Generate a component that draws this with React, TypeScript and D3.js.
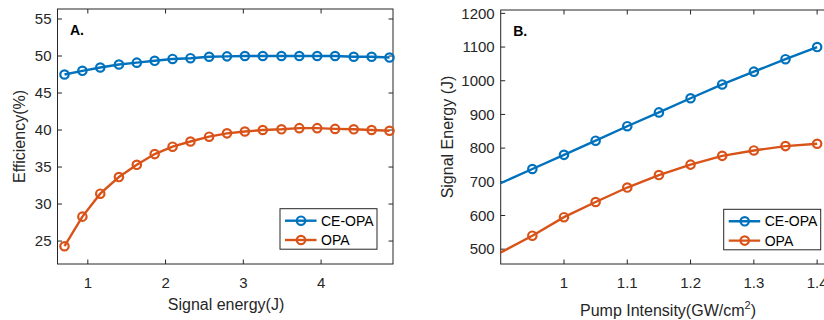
import React from "react";
import * as d3 from "d3";

// ---- Panel A data ----
const signalEnergy = [0.70, 0.93, 1.16, 1.40, 1.63, 1.86, 2.09, 2.32, 2.56, 2.79, 3.02, 3.25, 3.49, 3.72, 3.95, 4.18, 4.42, 4.65, 4.88];
const effCEOPA = [47.5, 48.0, 48.45, 48.85, 49.1, 49.35, 49.6, 49.7, 49.9, 49.95, 50.0, 50.0, 50.0, 50.0, 50.0, 50.0, 49.9, 49.9, 49.8];
const effOPA = [24.3, 28.3, 31.4, 33.65, 35.3, 36.75, 37.75, 38.45, 39.1, 39.55, 39.8, 40.0, 40.1, 40.25, 40.25, 40.15, 40.1, 40.0, 39.9];
const ticksA_x = [1, 2, 3, 4];
const ticksA_y = [25, 30, 35, 40, 45, 50, 55];

// ---- Panel B data ----
const pumpIntensity = [0.85, 0.95, 1.0, 1.05, 1.1, 1.15, 1.2, 1.25, 1.3, 1.35, 1.4];
const sigCEOPA = [654, 738, 780, 822, 865, 906, 948, 989, 1027, 1064, 1100];
const sigOPA = [440, 540, 595, 640, 683, 720, 751, 777, 793, 806, 813];
const ticksB_x = [1, 1.1, 1.2, 1.3, 1.4];
const ticksB_y = [500, 600, 700, 800, 900, 1000, 1100, 1200];

const seriesNames = ["CE-OPA", "OPA"];
const BLUE = "#0072BD";
const ORANGE = "#D95319";
const AX = "#262626";
const FONT = "'Liberation Sans', Arial, Helvetica, sans-serif";
const TICK_FS = 15;
const LABEL_FS = 16;

type PanelProps = {
  id: string;
  xs: number[];
  ys: number[][];
  xDomain: [number, number];
  yDomain: [number, number];
  left: number; right: number; top: number; bottom: number;
  xTicks: number[]; yTicks: number[];
  xFmt: (v: number) => string;
  panelLabel: string;
  yLabel: string;
  yLabelX: number;
  xLabel: React.ReactNode;
  legendX: number; legendY: number;
  clip: boolean;
  drawRight: boolean;
};

function Panel(p: PanelProps) {
  const x = d3.scaleLinear().domain(p.xDomain).range([p.left, p.right]);
  const y = d3.scaleLinear().domain(p.yDomain).range([p.bottom, p.top]);
  const line = d3.line<number>().x((_, i) => x(p.xs[i])).y((d) => y(d));
  const colors = [BLUE, ORANGE];
  const tl = 4.5;
  const clipId = "clip-" + p.id;
  const lw = 97, lh = 40.5;
  return (
    <g>
      <defs>
        <clipPath id={clipId}>
          <rect x={p.left} y={p.top} width={p.right - p.left} height={p.bottom - p.top} />
        </clipPath>
      </defs>
      <rect x={p.left} y={p.top} width={p.right - p.left} height={p.bottom - p.top} fill="#fff" stroke={AX} strokeWidth={1} />
      {p.xTicks.map((t) => (
        <g key={"xt" + t}>
          <line x1={x(t)} x2={x(t)} y1={p.bottom} y2={p.bottom - tl} stroke={AX} />
          <line x1={x(t)} x2={x(t)} y1={p.top} y2={p.top + tl} stroke={AX} />
          <text x={x(t)} y={p.bottom + 24} textAnchor="middle" fontSize={TICK_FS} fill={AX} fontFamily={FONT}>{p.xFmt(t)}</text>
        </g>
      ))}
      {p.yTicks.map((t) => (
        <g key={"yt" + t}>
          <line x1={p.left} x2={p.left + tl} y1={y(t)} y2={y(t)} stroke={AX} />
          {p.drawRight && <line x1={p.right} x2={p.right - tl} y1={y(t)} y2={y(t)} stroke={AX} />}
          <text x={p.left - 6} y={y(t) + 5.2} textAnchor="end" fontSize={TICK_FS} fill={AX} fontFamily={FONT}>{t}</text>
        </g>
      ))}
      <g clipPath={p.clip ? `url(#${clipId})` : undefined}>
        {p.ys.map((s, k) => (
          <g key={"s" + k}>
            <path d={line(s) || ""} fill="none" stroke={colors[k]} strokeWidth={2.4} />
            {s.map((v, i) => (
              <circle key={i} cx={x(p.xs[i])} cy={y(v)} r={4.2} fill="none" stroke={colors[k]} strokeWidth={2.2} />
            ))}
          </g>
        ))}
      </g>
      <text x={p.left + 12.5} y={p.top + 26} fontSize={14} fontWeight="bold" fill="#000" fontFamily={FONT}>{p.panelLabel}</text>
      <text transform={`translate(${p.yLabelX},${(p.top + p.bottom) / 2}) rotate(-90)`} textAnchor="middle" fontSize={LABEL_FS} fill={AX} fontFamily={FONT}>{p.yLabel}</text>
      {p.xLabel}
      <rect x={p.legendX} y={p.legendY} width={lw} height={lh} fill="#fff" stroke={AX} strokeWidth={1} />
      {seriesNames.map((n, k) => {
        const cy = p.legendY + 12 + k * 19.3;
        return (
          <g key={n}>
            <line x1={p.legendX + 5} x2={p.legendX + 36.5} y1={cy} y2={cy} stroke={colors[k]} strokeWidth={2.4} />
            <circle cx={p.legendX + 21} cy={cy} r={4.2} fill="none" stroke={colors[k]} strokeWidth={2.2} />
            <text x={p.legendX + 41} y={cy + 5} fontSize={14} fill="#000" fontFamily={FONT}>{n}</text>
          </g>
        );
      })}
    </g>
  );
}

export default function App() {
  return (
    <svg width={824} height={320} style={{ position: "absolute", left: 0, top: 0, background: "#fff" }}>
      <rect x={0} y={0} width={824} height={320} fill="#fff" />
      <Panel
        id="a"
        xs={signalEnergy}
        ys={[effCEOPA, effOPA]}
        xDomain={[0.61, 4.925]}
        yDomain={[21.9, 56.35]}
        left={57.5} right={393} top={9} bottom={264}
        xTicks={ticksA_x} yTicks={ticksA_y}
        xFmt={(v) => String(v)}
        panelLabel="A."
        yLabel="Efficiency(%)"
        yLabelX={25}
        xLabel={<text x={226} y={310} textAnchor="middle" fontSize={LABEL_FS} fill={AX} fontFamily={FONT}>Signal energy(J)</text>}
        legendX={280} legendY={208.7}
        clip={false}
        drawRight={true}
      />
      <Panel
        id="b"
        xs={pumpIntensity}
        ys={[sigCEOPA, sigOPA]}
        xDomain={[0.9, 1.414]}
        yDomain={[456, 1210]}
        left={500.7} right={826} top={10} bottom={264}
        xTicks={ticksB_x} yTicks={ticksB_y}
        xFmt={(v) => (v === 1 ? "1" : v.toFixed(1))}
        panelLabel="B."
        yLabel="Signal Energy (J)"
        yLabelX={453}
        xLabel={
          <text x={668} y={316} textAnchor="middle" fontSize={LABEL_FS} fill={AX} fontFamily={FONT}>
            Pump Intensity(GW/cm<tspan dy={-7} fontSize={11}>2</tspan><tspan dy={7}>)</tspan>
          </text>
        }
        legendX={723.7} legendY={209.3}
        clip={true}
        drawRight={false}
      />
    </svg>
  );
}
